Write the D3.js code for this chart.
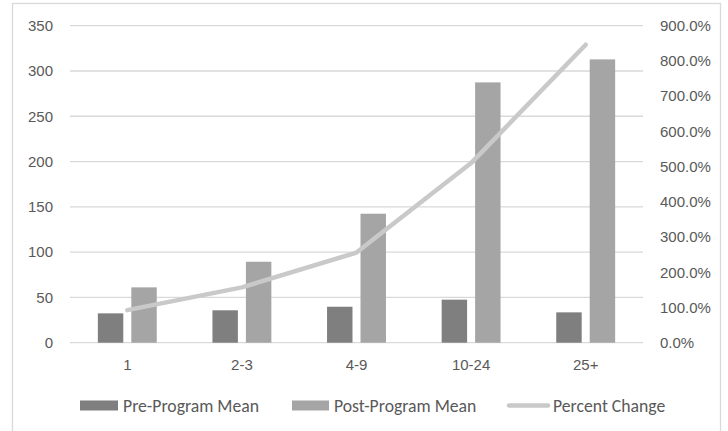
<!DOCTYPE html>
<html>
<head>
<meta charset="utf-8">
<script src="https://cdn.jsdelivr.net/npm/d3@7"></script>
<style>
  html, body { margin: 0; padding: 0; background: #fff; }
  svg { display: block; font-family: Carlito, Lato, "Open Sans", sans-serif; }
</style>
</head>
<body>
<svg id="chart" width="728" height="431"></svg>
<script>
// Visit-count groups and their means
const categories = ["1", "2-3", "4-9", "10-24", "25+"];
const preMean = [32.4, 35.8, 39.7, 47.5, 33.5];
const postMean = [61.1, 89.4, 142.4, 287.4, 312.8];
const percentChange = [92.5, 157, 256, 510, 846];
const leftTicks = [0, 50, 100, 150, 200, 250, 300, 350];
const rightTicks = [0, 100, 200, 300, 400, 500, 600, 700, 800, 900];

const seriesNames = ["Pre-Program Mean", "Post-Program Mean", "Percent Change"];
const colors = { pre: "#7f7f7f", post: "#a5a5a5", line: "#c9c9c9", grid: "#d9d9d9", text: "#595959" };

const svg = d3.select("#chart");
const plot = { left: 70, right: 643, top: 25.7, bottom: 342.7 };

// chart frame
svg.append("rect")
  .attr("x", 12.5).attr("y", 3.5)
  .attr("width", 708).attr("height", 440)
  .attr("fill", "#fff").attr("stroke", colors.grid).attr("stroke-width", 1.3);

const x = d3.scaleBand().domain(categories).range([plot.left, plot.right]).paddingInner(0).paddingOuter(0);
const yL = d3.scaleLinear().domain([0, 350]).range([plot.bottom, plot.top]);
const yR = d3.scaleLinear().domain([0, 900]).range([plot.bottom, plot.top]);

// horizontal gridlines
svg.append("g").selectAll("line").data(leftTicks).join("line")
  .attr("x1", plot.left).attr("x2", plot.right)
  .attr("y1", d => yL(d)).attr("y2", d => yL(d))
  .attr("stroke", colors.grid).attr("stroke-width", 1.3);

// left axis labels
const leftAxis = d3.axisLeft(yL).tickValues(leftTicks).tickSize(0).tickPadding(0);
const gL = svg.append("g").attr("transform", "translate(53,0)").call(leftAxis);
gL.select(".domain").remove();
gL.selectAll("text").attr("fill", colors.text).style("font-size", "15px").style("font-family", "inherit");

// right axis labels
const rightAxis = d3.axisRight(yR).tickValues(rightTicks).tickSize(0).tickPadding(0)
  .tickFormat(d => d3.format(".1f")(d) + "%");
const gR = svg.append("g").attr("transform", "translate(660,0)").call(rightAxis);
gR.select(".domain").remove();
gR.selectAll("text").attr("fill", colors.text).style("font-size", "15px").style("font-family", "inherit");

// category labels
const bottomAxis = d3.axisBottom(x).tickSize(0).tickPadding(0);
const gB = svg.append("g").attr("transform", "translate(0,359)").call(bottomAxis);
gB.select(".domain").remove();
gB.selectAll("text").attr("fill", colors.text).style("font-size", "15px").style("font-family", "inherit");

// bars
const bw = x.bandwidth();
const barW = bw * 0.222;
const gap = bw * 0.07;
const center = c => x(c) + bw / 2;

svg.append("g").selectAll("rect").data(categories).join("rect")
  .attr("x", c => center(c) - gap / 2 - barW)
  .attr("width", barW)
  .attr("y", (c, i) => yL(preMean[i]))
  .attr("height", (c, i) => yL(0) - yL(preMean[i]))
  .attr("fill", colors.pre);

svg.append("g").selectAll("rect").data(categories).join("rect")
  .attr("x", c => center(c) + gap / 2)
  .attr("width", barW)
  .attr("y", (c, i) => yL(postMean[i]))
  .attr("height", (c, i) => yL(0) - yL(postMean[i]))
  .attr("fill", colors.post);

// percent change line on the secondary axis
const line = d3.line()
  .x((d, i) => center(categories[i]))
  .y(d => yR(d));
svg.append("path").datum(percentChange)
  .attr("d", line)
  .attr("fill", "none")
  .attr("stroke", colors.line)
  .attr("stroke-width", 4.5)
  .attr("stroke-linecap", "round")
  .attr("stroke-linejoin", "round");

// legend
const legend = svg.append("g").style("font-size", "17.7px").attr("fill", colors.text);
const lgY = 405.5;
legend.append("rect").attr("x", 80).attr("y", lgY - 5).attr("width", 38).attr("height", 10).attr("fill", colors.pre);
legend.append("text").attr("x", 123).attr("y", lgY).attr("dy", "0.35em").text(seriesNames[0]);
legend.append("rect").attr("x", 292).attr("y", lgY - 5).attr("width", 37).attr("height", 10).attr("fill", colors.post);
legend.append("text").attr("x", 334).attr("y", lgY).attr("dy", "0.35em").text(seriesNames[1]);
legend.append("line").attr("x1", 509).attr("x2", 548).attr("y1", lgY).attr("y2", lgY)
  .attr("stroke", colors.line).attr("stroke-width", 4.5).attr("stroke-linecap", "round");
legend.append("text").attr("x", 553).attr("y", lgY).attr("dy", "0.35em").text(seriesNames[2]);
</script>
</body>
</html>
